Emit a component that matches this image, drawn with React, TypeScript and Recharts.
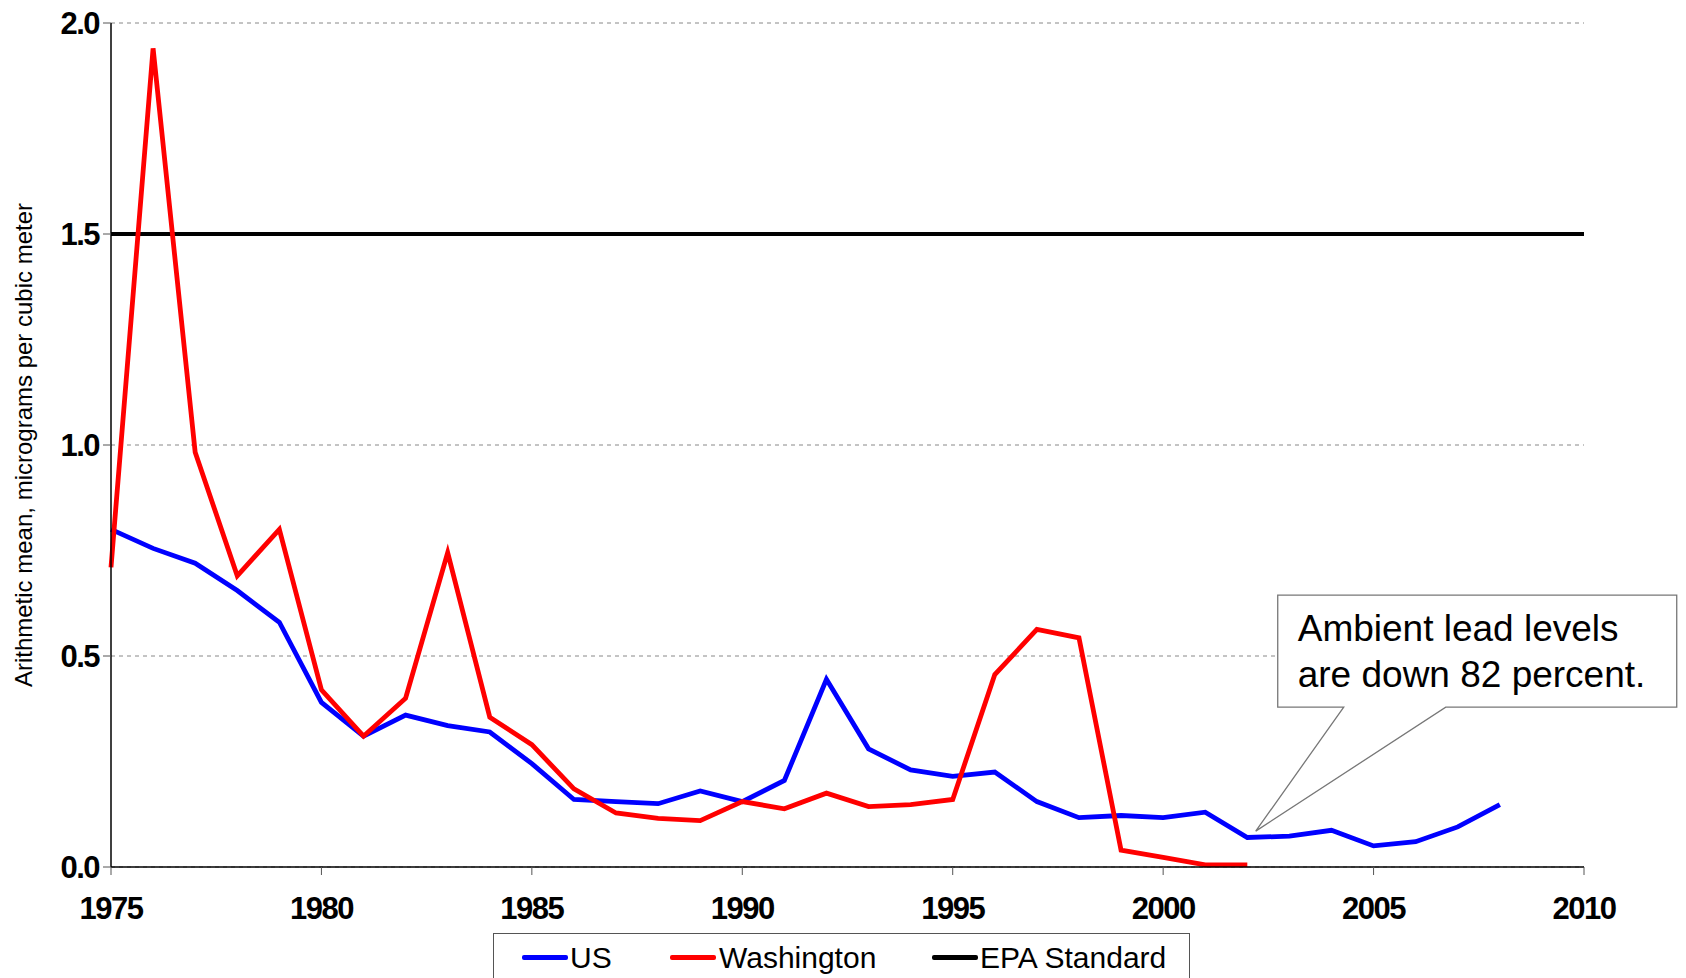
import React from 'react';
import { LineChart, Line, XAxis, YAxis, CartesianGrid, ReferenceLine, ReferenceDot } from 'recharts';

// Ambient lead concentrations, micrograms per cubic meter
const years = [
  1975, 1976, 1977, 1978, 1979, 1980, 1981, 1982, 1983, 1984, 1985, 1986,
  1987, 1988, 1989, 1990, 1991, 1992, 1993, 1994, 1995, 1996, 1997, 1998,
  1999, 2000, 2001, 2002, 2003, 2004, 2005, 2006, 2007, 2008,
];
const usValues = [
  0.8, 0.755, 0.72, 0.655, 0.58, 0.39, 0.31, 0.36, 0.335, 0.32, 0.245, 0.16,
  0.155, 0.15, 0.18, 0.155, 0.205, 0.445, 0.28, 0.23, 0.215, 0.225, 0.155, 0.117,
  0.122, 0.117, 0.13, 0.07, 0.073, 0.087, 0.05, 0.06, 0.095, 0.148,
];
const washingtonValues = [
  0.71, 1.94, 0.983, 0.69, 0.80, 0.42, 0.31, 0.40, 0.745, 0.355, 0.29, 0.185,
  0.128, 0.115, 0.11, 0.155, 0.138, 0.175, 0.143, 0.148, 0.16, 0.456, 0.563, 0.543,
  0.04, 0.023, 0.005, 0.005,
];
const epaStandard = 1.5;
const xTicks = [1975, 1980, 1985, 1990, 1995, 2000, 2005, 2010];
const yTicks = [0, 0.5, 1.0, 1.5, 2.0];

const calloutAt = { year: 2002.2, value: 0.085 };
const calloutLines = ['Ambient lead levels', 'are down 82 percent.'];

const data = years.map((year, i) => ({
  year,
  us: usValues[i],
  washington: washingtonValues[i],
}));

const font = '"Liberation Sans", Arial, sans-serif';
const tickStyle = { fill: '#000', fontSize: 31, fontWeight: 'bold', fontFamily: font, letterSpacing: -1.5 };

const CalloutShape = (props: any) => {
  const { cx, cy } = props;
  if (cx == null || cy == null) return null;
  const p = (dx: number, dy: number) => `${cx + dx},${cy + dy}`;
  const d = `M${p(0, 0)} L${p(88, -124)} L${p(22, -124)} L${p(22, -236)} L${p(421, -236)} L${p(421, -124)} L${p(190, -124)} Z`;
  return (
    <g>
      <path d={d} fill="#fff" stroke="#777" strokeWidth={1.3} />
      {calloutLines.map((t, i) => (
        <text key={t} x={cx + 42} y={cy - 190 + i * 46} fontSize={37} fontFamily={font} fill="#000">
          {t}
        </text>
      ))}
    </g>
  );
};

const legendItems = [
  { label: 'US', color: '#0000ff', lineX: 28, textX: 78 },
  { label: 'Washington', color: '#ff0000', lineX: 176, textX: 227 },
  { label: 'EPA Standard', color: '#000000', lineX: 438, textX: 488 },
];

export default function App() {
  return (
    <div style={{ position: 'absolute', left: 0, top: 0, width: 1686, height: 978, overflow: 'hidden', background: '#fff', fontFamily: font }}>
      <LineChart width={1686} height={978} data={data} margin={{ top: 23, right: 102, left: 51, bottom: 51 }}>
        <CartesianGrid vertical={false} stroke="#888" strokeDasharray="4 4" />
        <XAxis
          dataKey="year"
          type="number"
          domain={[1975, 2010]}
          ticks={xTicks}
          height={60}
          tickSize={8}
          tickLine={{ stroke: '#555' }}
          axisLine={{ stroke: '#000', strokeWidth: 1.5 }}
          tick={tickStyle}
          dy={20}
        />
        <YAxis
          type="number"
          domain={[0, 2]}
          ticks={yTicks}
          width={60}
          tickSize={8}
          tickLine={{ stroke: '#555' }}
          axisLine={{ stroke: '#000', strokeWidth: 1.5 }}
          tickFormatter={(v: number) => v.toFixed(1)}
          tick={tickStyle}
          dx={-2}
        />
        <ReferenceLine y={epaStandard} stroke="#000" strokeWidth={4} />
        <Line
          type="linear"
          dataKey="us"
          stroke="#0000ff"
          strokeWidth={4.8}
          dot={false}
          isAnimationActive={false}
        />
        <Line
          type="linear"
          dataKey="washington"
          stroke="#ff0000"
          strokeWidth={4.8}
          dot={false}
          isAnimationActive={false}
        />
        <ReferenceDot
          x={calloutAt.year}
          y={calloutAt.value}
          r={0}
          ifOverflow="visible"
          shape={CalloutShape}
        />
      </LineChart>

      <div
        style={{
          position: 'absolute',
          left: 24,
          top: 445,
          transform: 'translate(-50%, -50%) rotate(-90deg)',
          whiteSpace: 'nowrap',
          fontSize: 24,
          color: '#000',
        }}
      >
        Arithmetic mean, micrograms per cubic meter
      </div>

      <div
        style={{
          position: 'absolute',
          left: 493,
          top: 933,
          width: 697,
          height: 70,
          border: '1.5px solid #555',
          background: '#fff',
          boxSizing: 'border-box',
        }}
      >
        {legendItems.map((it) => (
          <React.Fragment key={it.label}>
            <div
              style={{
                position: 'absolute',
                left: it.lineX,
                top: 21,
                width: 46,
                height: 5,
                borderRadius: 2,
                background: it.color,
              }}
            />
            <div
              style={{
                position: 'absolute',
                left: it.textX - 2,
                top: 6,
                fontSize: 30,
                lineHeight: '36px',
                color: '#000',
                whiteSpace: 'nowrap',
              }}
            >
              {it.label}
            </div>
          </React.Fragment>
        ))}
      </div>
    </div>
  );
}
